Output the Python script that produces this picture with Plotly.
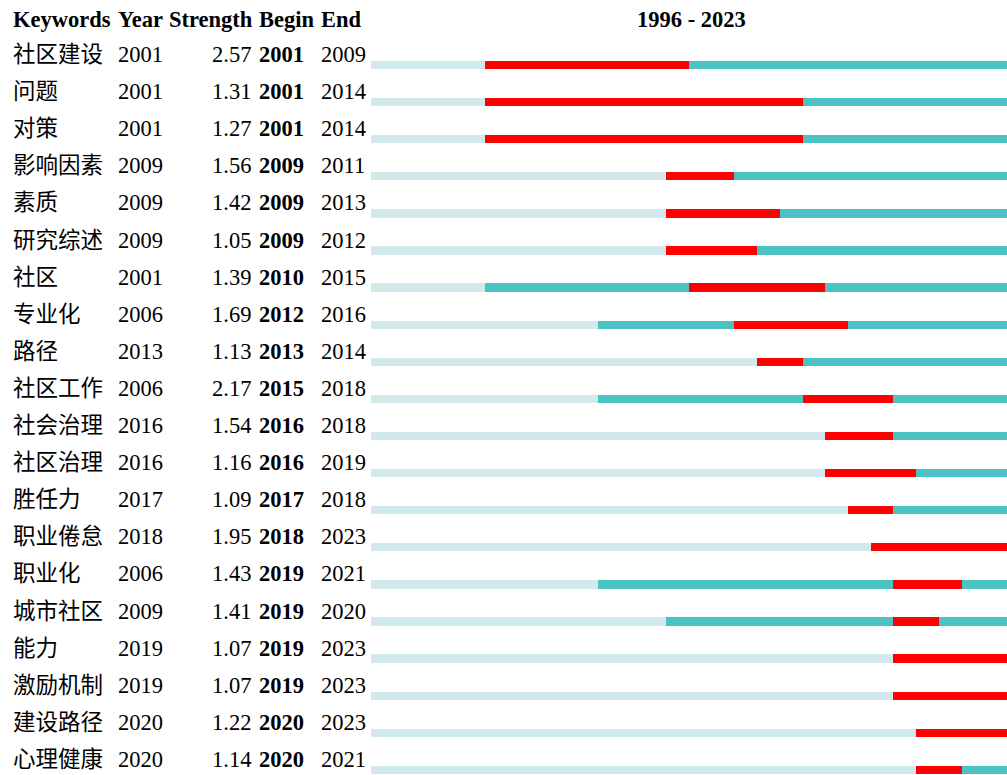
import plotly.graph_objects as go

keywords = ["社区建设", "问题", "对策", "影响因素", "素质", "研究综述", "社区", "专业化", "路径", "社区工作",
            "社会治理", "社区治理", "胜任力", "职业倦怠", "职业化", "城市社区", "能力", "激励机制", "建设路径", "心理健康"]
year = [2001, 2001, 2001, 2009, 2009, 2009, 2001, 2006, 2013, 2006,
        2016, 2016, 2017, 2018, 2006, 2009, 2019, 2019, 2020, 2020]
strength = [2.57, 1.31, 1.27, 1.56, 1.42, 1.05, 1.39, 1.69, 1.13, 2.17,
            1.54, 1.16, 1.09, 1.95, 1.43, 1.41, 1.07, 1.07, 1.22, 1.14]
begin = [2001, 2001, 2001, 2009, 2009, 2009, 2010, 2012, 2013, 2015,
         2016, 2016, 2017, 2018, 2019, 2019, 2019, 2019, 2020, 2020]
end = [2009, 2014, 2014, 2011, 2013, 2012, 2015, 2016, 2014, 2018,
       2018, 2019, 2018, 2023, 2021, 2020, 2023, 2023, 2023, 2021]
headers = ["Keywords", "Year", "Strength", "Begin", "End"]
start_year, end_year = 1996, 2023

W, H = 1007, 775
BAR_X0, BAR_X1 = 371, 1007
BAR_Y0, BAR_DY = 65, 37.1
TXT_Y0, TXT_DY = 54.5, 37.1

n = len(keywords)
rows = list(range(n))
ppy = (BAR_X1 - BAR_X0) / (end_year + 1 - start_year)
x_lo = start_year - BAR_X0 / ppy
x_hi = end_year + 1
y_lo = -BAR_Y0 / BAR_DY
y_hi = (H - BAR_Y0) / BAR_DY
thick = 8.3 / BAR_DY

FONT = "Liberation Serif, 'Noto Sans CJK SC', serif"
LIGHT, TEAL, RED = "#d2e9eb", "#4cc3c3", "#ff0000"

fig = go.Figure()
fig.add_trace(go.Bar(orientation="h", y=rows, base=[start_year] * n,
                     x=[y - start_year for y in year], width=thick,
                     marker=dict(color=LIGHT, line_width=0), hoverinfo="skip"))
fig.add_trace(go.Bar(orientation="h", y=rows, base=year,
                     x=[end_year + 1 - y for y in year], width=thick,
                     marker=dict(color=TEAL, line_width=0), hoverinfo="skip"))
fig.add_trace(go.Bar(orientation="h", y=rows, base=begin,
                     x=[e + 1 - b for b, e in zip(begin, end)], width=thick,
                     marker=dict(color=RED, line_width=0), hoverinfo="skip"))

ann = []
def txt(x, ypx, s, anchor="left", size=22.5):
    ann.append(dict(xref="paper", yref="paper", x=x / W, y=1 - ypx / H, text=s,
                    xanchor=anchor, yanchor="middle", showarrow=False,
                    font=dict(family=FONT, size=size, color="black")))

hx = [11, 116, 167, 257, 319]
for h, x in zip(headers, hx):
    txt(x, 20, "<b>%s</b>" % h)
txt(691.5, 20, "<b>%d - %d</b>" % (start_year, end_year), anchor="center")

for i in rows:
    yp = TXT_Y0 + TXT_DY * i
    txt(11, yp, keywords[i])
    txt(116, yp, str(year[i]))
    txt(252.5, yp, "%.2f" % strength[i], anchor="right")
    txt(257, yp, "<b>%d</b>" % begin[i])
    txt(319, yp, str(end[i]))

fig.update_layout(
    width=W, height=H, margin=dict(l=0, r=0, t=0, b=0),
    paper_bgcolor="white", plot_bgcolor="white", barmode="overlay",
    showlegend=False, bargap=0,
    xaxis=dict(range=[x_lo, x_hi], visible=False, fixedrange=True),
    yaxis=dict(range=[y_hi, y_lo], visible=False, fixedrange=True),
    annotations=ann,
)
fig.write_html("out.html", config={"displayModeBar": False},
               post_script="document.body.style.margin='0';document.body.style.overflow='hidden';")
